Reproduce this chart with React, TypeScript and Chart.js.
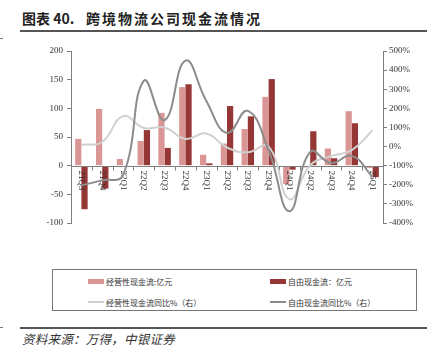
import React, { useEffect, useRef } from "react";
import { Chart, registerables } from "chart.js";

Chart.register(...registerables);

const categories = ["21Q3", "21Q4", "22Q1", "22Q2", "22Q3", "22Q4", "23Q1", "23Q2", "23Q3", "23Q4", "24Q1", "24Q2", "24Q3", "24Q4", "25Q1"];
const operatingCF = [46.7, 99, 11.6, 43, 92, 137, 19, 38.5, 64, 120, -32, -3, 30, 95, -4];
const freeCF = [-76, -40, -2, 62, 31, 142, 4, 104, 86, 151, -7, 60, 13, 74, -20];
const operatingYoY = [10, 24, 159, 97, 100, 40, 68, -5, -30, 0, -275, -98, -50, -19, 85];
const freeYoY = [-203, -177, -150, 344, 138, 450, 240, 71, 187, -19, -338, -28, -86, -49, -159];
const leftTicks = { min: -100, max: 200, step: 50 };
const rightTicks = { min: -400, max: 500, step: 100 };

const legendItems = [
  { label: "经营性现金流:亿元", color: "#D99694", kind: "box" },
  { label: "自由现金流：亿元", color: "#953735", kind: "box" },
  { label: "经营性现金流同比%（右）", color: "#D0D0D0", kind: "line" },
  { label: "自由现金流同比%（右）", color: "#8C8C8C", kind: "line" },
];

const SERIF = "'Liberation Serif', 'Times New Roman', serif";
const CJK = "'Noto Sans CJK SC', 'Noto Sans', sans-serif";

const categoryAxisPlugin = {
  id: "categoryAxisAtZero",
  afterDatasetDraw(chart: any, args: any) {
    if (args.index !== 0) return;
    const { ctx, chartArea } = chart;
    const xs = chart.scales.x;
    const ys = chart.scales.y;
    const y0 = Math.round(ys.getPixelForValue(0)) + 0.5;
    ctx.save();
    ctx.strokeStyle = "#7f7f7f";
    ctx.lineWidth = 1;
    ctx.beginPath();
    ctx.moveTo(chartArea.left, y0);
    ctx.lineTo(chartArea.right, y0);
    const n = categories.length;
    const w = (chartArea.right - chartArea.left) / n;
    for (let i = 0; i <= n; i++) {
      const x = Math.round(chartArea.left + i * w) + 0.5;
      ctx.moveTo(x, y0);
      ctx.lineTo(x, y0 + 4);
    }
    ctx.stroke();
    ctx.fillStyle = "#333";
    ctx.font = `9px ${SERIF}`;
    ctx.textAlign = "left";
    ctx.textBaseline = "middle";
    categories.forEach((c, i) => {
      const x = xs.getPixelForValue(i);
      ctx.save();
      ctx.translate(x, y0 + 4);
      ctx.rotate(Math.PI / 2);
      ctx.fillText(c, 0, 0);
      ctx.restore();
    });
    ctx.restore();
  },
};

function ChartBox() {
  const ref = useRef<HTMLCanvasElement | null>(null);
  useEffect(() => {
    if (!ref.current) return;
    const chart = new Chart(ref.current, {
      type: "bar",
      data: {
        labels: categories,
        datasets: [
          {
            type: "bar",
            label: legendItems[0].label,
            data: operatingCF,
            backgroundColor: "#D99694",
            borderWidth: 0,
            yAxisID: "y",
            order: 2,
            categoryPercentage: 0.6,
            barPercentage: 1.0,
          },
          {
            type: "bar",
            label: legendItems[1].label,
            data: freeCF,
            backgroundColor: "#953735",
            borderWidth: 0,
            yAxisID: "y",
            order: 3,
            categoryPercentage: 0.6,
            barPercentage: 1.0,
          },
          {
            type: "line",
            label: legendItems[2].label,
            data: operatingYoY,
            borderColor: "#D0D0D0",
            backgroundColor: "#D0D0D0",
            borderWidth: 2,
            pointRadius: 0,
            tension: 0.45,
            yAxisID: "y1",
            order: 1,
          },
          {
            type: "line",
            label: legendItems[3].label,
            data: freeYoY,
            borderColor: "#8C8C8C",
            backgroundColor: "#8C8C8C",
            borderWidth: 2,
            pointRadius: 0,
            tension: 0.45,
            yAxisID: "y1",
            order: 0,
          },
        ] as any,
      },
      options: {
        responsive: false,
        animation: false,
        devicePixelRatio: 1,
        layout: { padding: { top: 11, bottom: 17, left: 0, right: 0 } },
        plugins: { legend: { display: false }, tooltip: { enabled: false }, title: { display: false } },
        scales: {
          x: { display: false, offset: true },
          y: {
            position: "left",
            min: leftTicks.min,
            max: leftTicks.max,
            ticks: { stepSize: leftTicks.step, color: "#333", font: { family: SERIF, size: 9 }, padding: 4 },
            grid: { drawOnChartArea: false, drawTicks: true, tickLength: 4, color: "#7f7f7f" },
            border: { display: true, color: "#7f7f7f", width: 1 },
            afterFit: (s: any) => { s.width = 71; },
          },
          y1: {
            position: "right",
            min: rightTicks.min,
            max: rightTicks.max,
            ticks: {
              stepSize: rightTicks.step,
              color: "#333",
              font: { family: SERIF, size: 9 },
              padding: 2,
              callback: (v: any) => `${v}%`,
            },
            grid: { drawOnChartArea: false, drawTicks: true, tickLength: 4, color: "#7f7f7f" },
            border: { display: true, color: "#7f7f7f", width: 1 },
            afterFit: (s: any) => { s.width = 50; },
          },
        },
      } as any,
      plugins: [categoryAxisPlugin],
    });
    return () => chart.destroy();
  }, []);
  return <canvas ref={ref} width={433} height={200} style={{ position: "absolute", left: 0, top: 40, width: 433, height: 200 }} />;
}

export default function App() {
  const legendPos = [
    { x: 88, y: 281 },
    { x: 270, y: 281 },
    { x: 88, y: 302 },
    { x: 270, y: 302 },
  ];
  const titleStyle: React.CSSProperties = { position: "absolute", top: 8, fontFamily: CJK, fontWeight: 700, fontSize: 14, color: "#222", whiteSpace: "nowrap", lineHeight: "20px" };
  return (
    <div style={{ position: "absolute", left: 0, top: 0, width: 433, height: 355, background: "#fff", overflow: "hidden" }}>
      <div style={{ ...titleStyle, left: 22 }}>图表 40.</div>
      <div style={{ ...titleStyle, left: 86, letterSpacing: 2 }}>跨境物流公司现金流情况</div>
      <div style={{ position: "absolute", left: 20, top: 30, width: 407, height: 1.5, background: "#555" }} />
      <div style={{ position: "absolute", left: 0, top: 38, width: 3, height: 1, background: "#777" }} />
      <ChartBox />
      <div style={{ position: "absolute", left: 52, top: 269, width: 365, height: 42, border: "1px solid #777", boxSizing: "border-box" }} />
      {legendItems.map((it, i) => (
        <div key={i} style={{ position: "absolute", left: legendPos[i].x, top: legendPos[i].y - 7, height: 14, display: "flex", alignItems: "center", whiteSpace: "nowrap" }}>
          <div style={{ width: 16, height: it.kind === "box" ? 5 : 2, background: it.color, marginRight: 2 }} />
          <span style={{ fontFamily: CJK, fontSize: 8, color: "#333" }}>{it.label}</span>
        </div>
      ))}
      <div style={{ position: "absolute", left: 20, top: 327, width: 407, height: 1.5, background: "#555" }} />
      <div style={{ position: "absolute", left: 0, top: 327, width: 3, height: 1, background: "#777" }} />
      <div style={{ position: "absolute", left: 22, top: 330, fontFamily: CJK, fontStyle: "italic", fontSize: 12.5, letterSpacing: 0.25, color: "#333", whiteSpace: "nowrap", lineHeight: "18px" }}>
        资料来源：万得，中银证券
      </div>
    </div>
  );
}
